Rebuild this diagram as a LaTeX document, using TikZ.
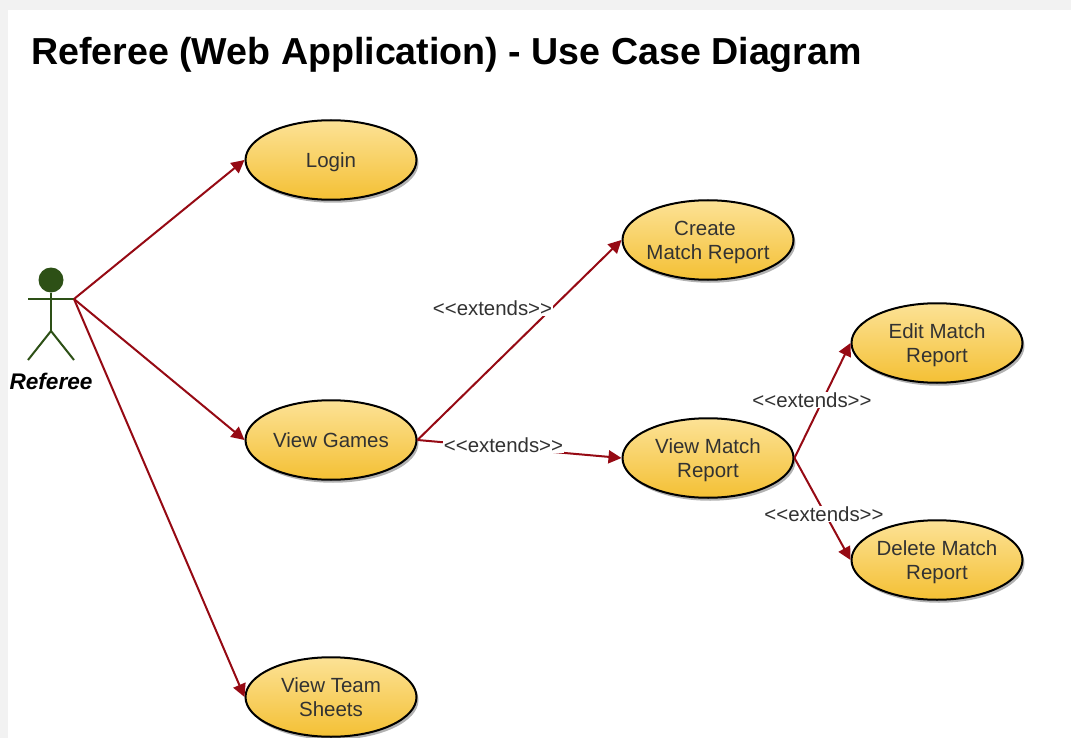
\documentclass[tikz,border=0pt]{standalone}
\usepackage{fontspec}
\setmainfont{Liberation Sans}
\usepackage{tikz}
\usetikzlibrary{positioning}
\usetikzlibrary{arrows.meta}
\usetikzlibrary{shapes.geometric}
\usetikzlibrary{shadows}
\definecolor{page}{RGB}{242,242,242}
\definecolor{darkred}{RGB}{150,10,20}
\definecolor{actor}{RGB}{45,80,22}
\definecolor{caseTop}{RGB}{252,226,150}
\definecolor{caseBottom}{RGB}{244,192,52}
\definecolor{label}{RGB}{50,50,50}
\newcommand{\firstline}{\rule{0pt}{18.5pt}}
\newcommand{\extlabel}{{<}{<}extends{>}{>}}

\begin{document}
\begin{tikzpicture}[x=1pt,y=-1pt]
	\tikzstyle{usecase}=[ellipse, draw=black, line width=2pt, top color=caseTop, bottom color=caseBottom, minimum width=171pt, minimum height=79.5pt, inner xsep=-8pt, inner ysep=-4pt, align=center, text=label, font=\fontsize{20.5}{24}\selectfont, drop shadow={shadow xshift=2pt, shadow yshift=-3pt, fill=black, opacity=0.3}]
	\tikzstyle{ext}=[fill=white, inner sep=1pt, text=label, font=\fontsize{20.4}{22}\selectfont]
	\tikzstyle{assoc}=[draw=darkred, line width=2pt, -{Triangle[length=13pt,width=13pt]}]
	\tikzstyle{stick}=[draw=actor, line width=2pt]

	\fill[page] (0,0) rectangle (1071,738);
	\fill[white] (8,10) rectangle (1071,738);

	\node at (446.5,55) (title) {\fontsize{37.6}{40}\selectfont\bfseries Referee (Web Application) - Use Case Diagram};

	\node at (51,280) [circle, fill=actor, minimum size=25pt, inner sep=0pt] (head) {};
	\coordinate (hip) at (51,331);
	\coordinate (handl) at (28,299);
	\coordinate (handr) at (74,299);
	\coordinate (footl) at (28,360);
	\coordinate (footr) at (74,360);
	\draw [stick] (head) -- (hip);
	\draw [stick] (handl) -- (handr);
	\draw [stick] (footl) -- (hip) -- (footr);
	\node at (51,381) (referee) {\fontsize{22.6}{24}\selectfont\bfseries\itshape Referee};

	\node at (331,160) [usecase] (login) {\firstline Login};
	\node at (331,440) [usecase] (games) {View Games};
	\node at (331,697) [usecase] (sheets) {View Team\\Sheets};
	\node at (708,240) [usecase] (create) {\firstline Create\kern6pt\\Match Report};
	\node at (708,458) [usecase] (view) {\firstline View Match\\Report};
	\node at (937,343) [usecase] (edit) {\firstline Edit Match\\Report};
	\node at (937,560) [usecase] (delete) {\firstline Delete Match\\Report};

	\draw [assoc] (handr) to (login.west);
	\draw [assoc] (handr) to (games.west);
	\draw [assoc] (handr) to (sheets.west);

	\draw [assoc] (games.east) to (create.west);
	\draw [assoc] (games.east) to (view.west);
	\draw [assoc] (view.east) to (edit.west);
	\draw [assoc] (view.east) to (delete.west);

	\node at (492.5,308) [ext] (extcreate) {\extlabel};
	\node at (503.5,445) [ext] (extview) {\extlabel};
	\node at (812,400) [ext] (extedit) {\extlabel};
	\node at (824,514) [ext] (extdelete) {\extlabel};
\end{tikzpicture}
\end{document}
